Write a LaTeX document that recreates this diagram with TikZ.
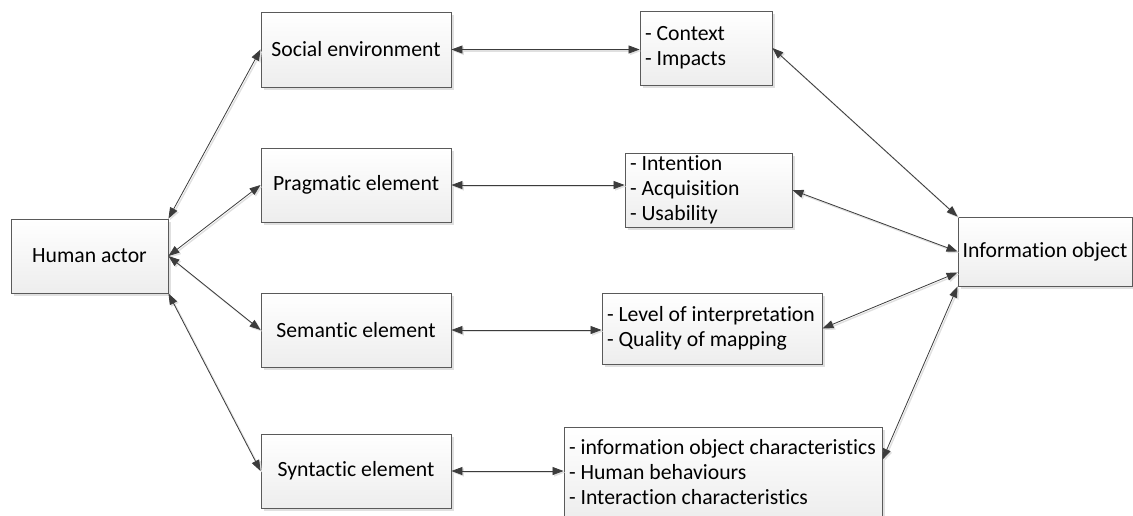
\documentclass[tikz,border=0pt]{standalone}
\usepackage{fontspec}
\setmainfont{Carlito}[Ligatures=NoCommon]
\usetikzlibrary{arrows.meta,shadows,calc}
\definecolor{boxline}{RGB}{90,90,90}
\definecolor{arrowcol}{RGB}{60,60,60}
\tikzset{
  box/.style={draw=boxline, line width=0.9pt, top color=white, bottom color=black!7,
    drop shadow={shadow xshift=3pt, shadow yshift=-3pt, fill=black, opacity=0.12},
    font=\fontsize{21.7}{25}\selectfont, inner sep=0pt, align=center},
  listbox/.style={box, align=flush left, inner xsep=5pt, inner ysep=0pt},
  tipA/.tip={Triangle[length=11pt,width=8pt]},
  link/.style={draw=arrowcol, line width=0.8pt, tipA-tipA,
    preaction={draw=black!12, line width=1.4pt, transform canvas={shift={(1.5pt,-1.5pt)}}}},
}
\begin{document}
\begin{tikzpicture}[x=1pt,y=-1pt]
\useasboundingbox (0,0) rectangle (1133,515);
% left column
\node[box, minimum width=157pt, minimum height=74pt] (human) at (89.5,256) {Human actor};
\node[box, minimum width=190pt, minimum height=75pt] (social) at (356,49.5) {Social environment};
\node[box, minimum width=190pt, minimum height=74pt] (prag) at (356,185) {Pragmatic element};
\node[box, minimum width=190pt, minimum height=74pt] (sem) at (356,330) {Semantic element};
\node[box, minimum width=190pt, minimum height=74pt] (syn) at (356,471) {Syntactic element};
% middle column
\node[listbox, text width=122pt, minimum height=74pt] (context) at (706,48) {- Context\\- Impacts};
\node[listbox, text width=157pt, minimum height=74pt] (intention) at (708.5,190) {- Intention\\- Acquisition\\- Usability};
\node[listbox, text width=210pt, minimum height=71pt] (level) at (712,328.5) {- Level of interpretation\\- Quality of mapping};
\node[listbox, text width=308pt, minimum height=91pt] (bottom) at (723,472.5) {- information object characteristics\\- Human behaviours\\- Interaction characteristics};
% right
\node[box, minimum width=174pt, minimum height=69pt] (info) at (1045,251.5) {Information object};
% connectors
\draw[link] (human.north east) -- (social.west);
\draw[link] (human.east) -- (prag.west);
\draw[link] (human.east) -- (sem.west);
\draw[link] (human.south east) -- (syn.west);
\draw[link] (social.east) -- (social.east -| context.west);
\draw[link] (prag.east) -- (prag.east -| intention.west);
\draw[link] (sem.east) -- (sem.east -| level.west);
\draw[link] (syn.east) -- (syn.east -| bottom.west);
\coordinate (infoA) at ($(info.west)!0.6!(info.south west)$);
\coordinate (botR) at ($(bottom.north east)!0.36!(bottom.south east)$);
\draw[link] (context.east) -- (info.north west);
\draw[link] (intention.east) -- (info.west);
\draw[link] (level.east) -- (infoA);
\draw[link] (botR) -- (info.south west);
\end{tikzpicture}
\end{document}
